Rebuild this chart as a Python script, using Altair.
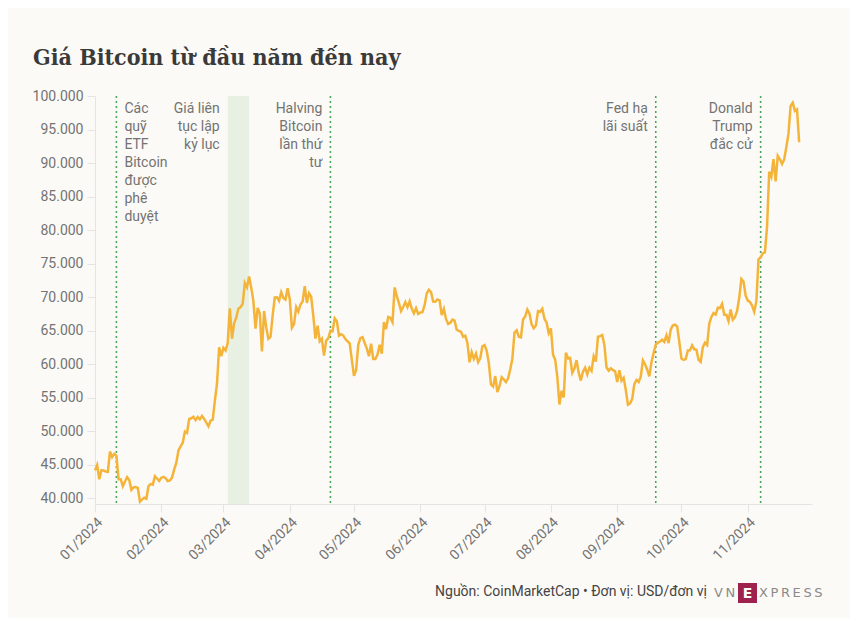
import altair as alt
import pandas as pd

# ---- data (daily prices, USD) ----
jan = [44168, 44958, 42848, 44179, 44162, 43989, 43943, 46970, 46139, 46627, 46368, 42853, 42842, 41796, 42511,
       43155, 42742, 41262, 41618, 41665, 41545, 39507, 39845, 40077, 39933, 41816, 42120, 42035, 43288, 42952, 42582]
feb = [43075, 43186, 42992, 42583, 42658, 43084, 44318, 45302, 47147, 47751, 48294, 49958, 49742, 51826, 51938,
       52160, 51663, 52122, 51780, 52284, 51839, 51304, 50731, 51571, 51733, 54522, 57085, 62504, 61198]
mar = [62440, 62029, 63167, 68330, 63801, 66106, 66925, 68300, 68498, 69019, 72123, 71482, 73083, 71396, 69403,
       65315, 68390, 67548, 61912, 67913, 65491, 63779, 64062, 67234, 69958, 69987, 69455, 70745, 69892, 69645, 71334]
apr = [69703, 65446, 65981, 68509, 67837, 68897, 69363, 71631, 69140, 70587, 70060, 67195, 63821, 65738, 63426,
       63811, 61276, 63512, 63844, 64994, 64927, 66837, 66407, 64276, 64482, 64276, 63755, 63419, 63113, 60636]
may = [58254, 59123, 62889, 63891, 64031, 63161, 62334, 61187, 63050, 60793, 60793, 61448, 62901, 61553, 66267,
       65231, 67051, 66940, 66278, 71448, 70136, 69122, 67929, 68527, 69265, 68518, 69394, 68296, 67578, 68364, 67491]
jun = [67706, 67751, 68805, 70567, 71083, 70757, 69342, 69305, 69648, 69512, 67332, 68242, 66757, 66012, 66191,
       66639, 66490, 65140, 64960, 64828, 64096, 64252, 63180, 60277, 61804, 60811, 61604, 60320, 60887, 62678]
jul = [62851, 62029, 60173, 56977, 56663, 58230, 55857, 56714, 58052, 57725, 57339, 57889, 59204, 60797, 64724,
       65043, 64088, 63987, 66660, 67139, 68165, 67532, 65936, 65372, 65777, 67912, 67813, 68255, 66784, 66188, 64620]
aug = [65357, 61415, 60680, 58116, 53991, 56034, 55027, 61710, 60881, 60945, 58719, 59354, 60609, 58737, 57560,
       58894, 59478, 58483, 59493, 59012, 61175, 60381, 64094, 64178, 64333, 62880, 59504, 59027, 59388, 59119, 58969]
sep = [57326, 59112, 57541, 57971, 56160, 53949, 54140, 54841, 57019, 57648, 57343, 58127, 60571, 60005, 59182,
       58192, 60308, 61649, 62940, 63192, 63394, 63648, 63329, 64301, 63143, 65181, 65790, 65887, 65635, 63329]
oct_ = [60837, 60632, 60759, 62068, 62089, 62819, 62224, 62160, 60636, 60326, 62541, 63207, 62851, 66061, 67042,
        67612, 67399, 68418, 68362, 69001, 67367, 67361, 66433, 68162, 66642, 67014, 67929, 69907, 72720, 72339, 70215]
nov = [69482, 69289, 68742, 67811, 69360, 75640, 75905, 76546, 76678, 80475, 88701, 87955, 90585, 87251, 91067,
       90559, 89845, 90542, 92344, 94339, 98505, 98997, 97778, 98013, 93102]

event_dates = ["2024-01-11", "2024-04-20", "2024-09-19", "2024-11-07"]
event_labels = ["Các\nquỹ\nETF\nBitcoin\nđược\nphê\nduyệt",
                "Halving\nBitcoin\nlần thứ\ntư",
                "Fed hạ\nlãi suất",
                "Donald\nTrump\nđắc cử"]
event_side = ["left", "right", "right", "right"]

band_start = "2024-03-03"
band_end = "2024-03-13"
band_label = "Giá liên\ntục lập\nkỷ lục"

y_ticks = [40000, 45000, 50000, 55000, 60000, 65000, 70000, 75000, 80000, 85000, 90000, 95000, 100000]
x_tick_months = [1, 2, 3, 4, 5, 6, 7, 8, 9, 10, 11]

TITLE = "Giá Bitcoin từ đầu năm đến nay"
FOOTER = "Nguồn: CoinMarketCap • Đơn vị: USD/đơn vị"

# ---- tables ----
months = [jan, feb, mar, apr, may, jun, jul, aug, sep, oct_, nov]
dates, prices = [], []
for m, vals in enumerate(months, start=1):
    for d, v in enumerate(vals, start=1):
        dates.append(f"2024-{m:02d}-{d:02d}T00:00")
        prices.append(v)
df = pd.DataFrame({"date": dates, "price": prices})

ev = pd.DataFrame({"date": [d + "T00:00" for d in event_dates], "label": event_labels, "side": event_side})
band = pd.DataFrame({"start": [band_start + "T00:00"], "end": [band_end + "T00:00"], "label": [band_label]})

FONT = "Roboto"
GRAY = "#737373"
AXC = "#e4e4e4"

xscale = alt.Scale(domain=["2024-01-01T00:00", "2024-12-01T00:00"])
yscale = alt.Scale(domain=[39150, 100000], nice=False, zero=False)

x_axis = alt.Axis(values=[alt.DateTime(year=2024, month=m, date=1) for m in x_tick_months],
                  format="%m/%Y", labelAngle=-45, title=None, grid=False,
                  domainColor=AXC, tickColor=AXC, tickSize=8, labelPadding=3,
                  labelFont=FONT, labelFontSize=14, labelColor=GRAY)
y_axis = alt.Axis(values=y_ticks, labelExpr="replace(format(datum.value, ','), ',', '.')",
                  title=None, grid=False, domainColor=AXC, tickColor=AXC, tickSize=8,
                  labelPadding=4, labelFont=FONT, labelFontSize=14, labelColor=GRAY)

band_layer = alt.Chart(band).mark_rect(color="#e7f0e3").encode(
    x=alt.X("start:T", scale=xscale, axis=x_axis), x2="end:T")

band_text = alt.Chart(band).mark_text(align="right", baseline="alphabetic", dx=-8, lineBreak="\n",
                                      lineHeight=18, font=FONT, fontSize=14, color=GRAY).encode(
    x=alt.X("start:T", scale=xscale), y=alt.value(17), text="label:N")

rules = alt.Chart(ev).mark_rule(color="#4aa85a", strokeDash=[2, 3], strokeWidth=1.6).encode(
    x=alt.X("date:T", scale=xscale))

line = alt.Chart(df).mark_line(color="#f4b43a", strokeWidth=2.5).encode(
    x=alt.X("date:T", scale=xscale, axis=x_axis),
    y=alt.Y("price:Q", scale=yscale, axis=y_axis))

ev_left = alt.Chart(ev).transform_filter("datum.side == 'left'").mark_text(
    align="left", baseline="alphabetic", dx=8, lineBreak="\n", lineHeight=18,
    font=FONT, fontSize=14, color=GRAY).encode(
    x=alt.X("date:T", scale=xscale), y=alt.value(17), text="label:N")
ev_right = alt.Chart(ev).transform_filter("datum.side == 'right'").mark_text(
    align="right", baseline="alphabetic", dx=-8, lineBreak="\n", lineHeight=18,
    font=FONT, fontSize=14, color=GRAY).encode(
    x=alt.X("date:T", scale=xscale), y=alt.value(17), text="label:N")

title_df = pd.DataFrame({"t": [TITLE]})
title_layer = alt.Chart(title_df).mark_text(align="left", baseline="alphabetic",
                                            font="'DejaVu Serif Condensed', 'DejaVu Serif'",
                                            fontSize=23, fontWeight="bold", color="#3a3a3a").encode(
    x=alt.value(-62), y=alt.value(-31), text="t:N")

foot_df = pd.DataFrame({"t": [FOOTER]})
footer = alt.Chart(foot_df).mark_text(align="right", baseline="alphabetic", font=FONT,
                                      fontSize=14, color="#444444").encode(
    x=alt.value(612), y=alt.value(500), text="t:N")

logo_df = pd.DataFrame({"vn": ["V\u2009N"], "e": ["E"], "x": ["X\u2009P\u2009R\u2009E\u2009S\u2009S"]})
logo_vn = alt.Chart(logo_df).mark_text(align="left", baseline="alphabetic", font="DejaVu Sans",
                                       fontSize=13, color="#8a8a8a").encode(
    x=alt.value(619), y=alt.value(501), text="vn:N")
logo_box = alt.Chart(logo_df).mark_rect(color="#9f224e").encode(
    x=alt.value(643), x2=alt.value(662), y=alt.value(487), y2=alt.value(507))
logo_e = alt.Chart(logo_df).mark_text(align="center", baseline="alphabetic", font="DejaVu Sans",
                                      fontSize=14, fontWeight="bold", color="#ffffff").encode(
    x=alt.value(652.5), y=alt.value(502), text="e:N")
logo_x = alt.Chart(logo_df).mark_text(align="left", baseline="alphabetic", font="DejaVu Sans",
                                      fontSize=13, color="#8a8a8a").encode(
    x=alt.value(664), y=alt.value(501), text="x:N")

chart = alt.layer(band_layer, rules, line, band_text, ev_left, ev_right, title_layer, footer,
                  logo_vn, logo_box, logo_e, logo_x).properties(
    width=717, height=408, autosize="none",
    padding={"left": 87, "top": 88, "right": 38, "bottom": 114},
    background="#fcfaf6"
).configure_view(stroke=None)

chart.save("out.html", embed_options={"renderer": "svg", "actions": False})
